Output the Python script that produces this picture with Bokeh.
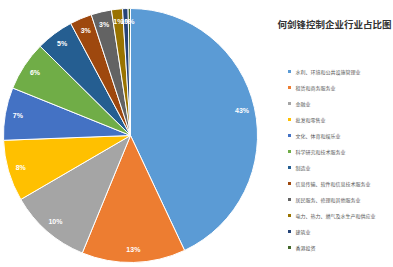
import numpy as np
from bokeh.plotting import figure
from bokeh.models import Range1d, ColumnDataSource
from bokeh.core.properties import value
from bokeh.embed import file_html
from bokeh.resources import INLINE

title = "何剑锋控制企业行业占比图"
categories = [
    "水利、环境和公共设施管理业",
    "租赁和商务服务业",
    "金融业",
    "批发和零售业",
    "文化、体育和娱乐业",
    "科学研究和技术服务业",
    "制造业",
    "信息传输、软件和信息技术服务业",
    "居民服务、修理和其他服务业",
    "电力、热力、燃气及水生产和供应业",
    "建筑业",
    "香港投资",
]
values = [43.0, 13.2, 10.4, 7.8, 6.7, 6.3, 4.8, 2.8, 2.6, 1.4, 0.7, 0.3]
colors = ["#5B9BD5", "#ED7D31", "#A5A5A5", "#FFC000", "#4472C4", "#70AD47",
          "#255E91", "#9E480E", "#636363", "#997300", "#264478", "#43682B"]

W, H = 393, 267
p = figure(width=W, height=H, output_backend="svg", toolbar_location=None,
           x_range=Range1d(0, W), y_range=Range1d(0, H), min_border=0)
p.axis.visible = False
p.grid.visible = False
p.outline_line_color = None
p.background_fill_color = "white"

cx, cy, R = 130, H - 135, 127
v = np.array(values)
frac = v / v.sum()
cum_end = np.cumsum(frac)
cum_start = cum_end - frac
start = np.pi / 2 - 2 * np.pi * cum_start
end = np.pi / 2 - 2 * np.pi * cum_end
mid = (start + end) / 2
lr = R * 0.9
src = ColumnDataSource(dict(start=start, end=end, color=colors,
                            lx=cx + lr * np.cos(mid), ly=cy + lr * np.sin(mid),
                            lab=[f"{int(x + 0.5)}%" for x in values]))
p.wedge(x=cx, y=cy, radius=R, start_angle="start", end_angle="end",
        direction="clock", fill_color="color", line_color="white",
        line_width=1, source=src)
p.text(x="lx", y="ly", text="lab", source=src, text_color="white",
       text_font=value("Liberation Sans"), text_font_style="bold",
       text_font_size="7px", text_align="center", text_baseline="middle")

# title
p.text(x=[277], y=[H - 23], text=[title], text_color="#333333",
       text_font=value("Noto Sans CJK SC"), text_font_style="bold",
       text_font_size="9.5px", text_align="left", text_baseline="middle")

# legend
ly0, dy = 71, 16
leg_y = [H - (ly0 + i * dy) for i in range(len(categories))]
p.scatter(x=[289] * len(categories), y=leg_y, marker="square", size=3,
          fill_color=colors, line_color=None)
p.text(x=[295] * len(categories), y=leg_y, text=categories,
       text_color="#595959", text_font=value("Noto Sans CJK SC"),
       text_font_size="5px", text_align="left", text_baseline="middle")

open("out.html", "w").write(file_html(p, INLINE))
